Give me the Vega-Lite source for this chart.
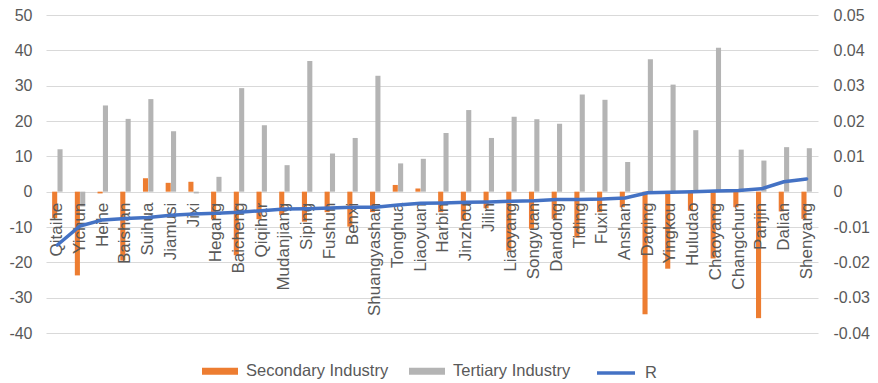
{
  "$schema": "https://vega.github.io/schema/vega-lite/v6.json",
  "autosize": {"type": "none"},
  "padding": {"left": 46, "top": 15, "right": 60, "bottom": 50},
  "width": 772,
  "height": 318,
  "config": {
    "view": {"stroke": null},
    "font": "Liberation Sans",
    "axis": {"labelFont": "Liberation Sans", "labelFontSize": 16, "labelColor": "#595959", "domain": false, "ticks": false, "labelOverlap": false},
    "legend": {"labelFont": "Liberation Sans", "labelFontSize": 16.5, "labelColor": "#595959"}
  },
  "datasets": {
    "bars": [
      {"city": "Qitaihe", "series": "Secondary Industry", "value": -7.5},
      {"city": "Qitaihe", "series": "Tertiary Industry", "value": 12.0},
      {"city": "Yichun", "series": "Secondary Industry", "value": -23.7},
      {"city": "Yichun", "series": "Tertiary Industry", "value": -4.2},
      {"city": "Heihe", "series": "Secondary Industry", "value": -0.5},
      {"city": "Heihe", "series": "Tertiary Industry", "value": 24.4},
      {"city": "Baishan", "series": "Secondary Industry", "value": -19.5},
      {"city": "Baishan", "series": "Tertiary Industry", "value": 20.6},
      {"city": "Suihua", "series": "Secondary Industry", "value": 3.8},
      {"city": "Suihua", "series": "Tertiary Industry", "value": 26.2},
      {"city": "Jiamusi", "series": "Secondary Industry", "value": 2.5},
      {"city": "Jiamusi", "series": "Tertiary Industry", "value": 17.1},
      {"city": "Jixi", "series": "Secondary Industry", "value": 2.8},
      {"city": "Jixi", "series": "Tertiary Industry", "value": -0.5},
      {"city": "Hegang", "series": "Secondary Industry", "value": -7.8},
      {"city": "Hegang", "series": "Tertiary Industry", "value": 4.2},
      {"city": "Baicheng", "series": "Secondary Industry", "value": -18.0},
      {"city": "Baicheng", "series": "Tertiary Industry", "value": 29.3},
      {"city": "Qiqihar", "series": "Secondary Industry", "value": -7.8},
      {"city": "Qiqihar", "series": "Tertiary Industry", "value": 18.8},
      {"city": "Mudanjiang", "series": "Secondary Industry", "value": -6.6},
      {"city": "Mudanjiang", "series": "Tertiary Industry", "value": 7.5},
      {"city": "Siping", "series": "Secondary Industry", "value": -8.5},
      {"city": "Siping", "series": "Tertiary Industry", "value": 37.0},
      {"city": "Fushun", "series": "Secondary Industry", "value": -5.8},
      {"city": "Fushun", "series": "Tertiary Industry", "value": 10.8},
      {"city": "Benxi", "series": "Secondary Industry", "value": -9.9},
      {"city": "Benxi", "series": "Tertiary Industry", "value": 15.2},
      {"city": "Shuangyashan", "series": "Secondary Industry", "value": -5.8},
      {"city": "Shuangyashan", "series": "Tertiary Industry", "value": 32.8},
      {"city": "Tonghua", "series": "Secondary Industry", "value": 1.9},
      {"city": "Tonghua", "series": "Tertiary Industry", "value": 8.0},
      {"city": "Liaoyuan", "series": "Secondary Industry", "value": 0.9},
      {"city": "Liaoyuan", "series": "Tertiary Industry", "value": 9.3},
      {"city": "Harbin", "series": "Secondary Industry", "value": -5.8},
      {"city": "Harbin", "series": "Tertiary Industry", "value": 16.6},
      {"city": "Jinzhou", "series": "Secondary Industry", "value": -8.2},
      {"city": "Jinzhou", "series": "Tertiary Industry", "value": 23.1},
      {"city": "Jilin", "series": "Secondary Industry", "value": -4.7},
      {"city": "Jilin", "series": "Tertiary Industry", "value": 15.2},
      {"city": "Liaoyang", "series": "Secondary Industry", "value": -16.7},
      {"city": "Liaoyang", "series": "Tertiary Industry", "value": 21.2},
      {"city": "Songyuan", "series": "Secondary Industry", "value": -10.5},
      {"city": "Songyuan", "series": "Tertiary Industry", "value": 20.5},
      {"city": "Dandong", "series": "Secondary Industry", "value": -7.7},
      {"city": "Dandong", "series": "Tertiary Industry", "value": 19.2},
      {"city": "Tiding", "series": "Secondary Industry", "value": -13.0},
      {"city": "Tiding", "series": "Tertiary Industry", "value": 27.5},
      {"city": "Fuxin", "series": "Secondary Industry", "value": -5.8},
      {"city": "Fuxin", "series": "Tertiary Industry", "value": 26.0},
      {"city": "Anshan", "series": "Secondary Industry", "value": -4.4},
      {"city": "Anshan", "series": "Tertiary Industry", "value": 8.4},
      {"city": "Daqing", "series": "Secondary Industry", "value": -34.7},
      {"city": "Daqing", "series": "Tertiary Industry", "value": 37.5},
      {"city": "Yingkou", "series": "Secondary Industry", "value": -21.8},
      {"city": "Yingkou", "series": "Tertiary Industry", "value": 30.3},
      {"city": "Huludao", "series": "Secondary Industry", "value": -5.4},
      {"city": "Huludao", "series": "Tertiary Industry", "value": 17.4},
      {"city": "Chaoyang", "series": "Secondary Industry", "value": -18.9},
      {"city": "Chaoyang", "series": "Tertiary Industry", "value": 40.7},
      {"city": "Changchun", "series": "Secondary Industry", "value": -4.4},
      {"city": "Changchun", "series": "Tertiary Industry", "value": 11.9},
      {"city": "Panjin", "series": "Secondary Industry", "value": -35.8},
      {"city": "Panjin", "series": "Tertiary Industry", "value": 8.8},
      {"city": "Dalian", "series": "Secondary Industry", "value": -5.6},
      {"city": "Dalian", "series": "Tertiary Industry", "value": 12.6},
      {"city": "Shenyang", "series": "Secondary Industry", "value": -7.7},
      {"city": "Shenyang", "series": "Tertiary Industry", "value": 12.3}
    ],
    "r": [
      {"city": "Qitaihe", "series": "R", "r": -0.0151},
      {"city": "Yichun", "series": "R", "r": -0.0097},
      {"city": "Heihe", "series": "R", "r": -0.0080},
      {"city": "Baishan", "series": "R", "r": -0.0076},
      {"city": "Suihua", "series": "R", "r": -0.0073},
      {"city": "Jiamusi", "series": "R", "r": -0.0067},
      {"city": "Jixi", "series": "R", "r": -0.0063},
      {"city": "Hegang", "series": "R", "r": -0.0061},
      {"city": "Baicheng", "series": "R", "r": -0.0058},
      {"city": "Qiqihar", "series": "R", "r": -0.0054},
      {"city": "Mudanjiang", "series": "R", "r": -0.0049},
      {"city": "Siping", "series": "R", "r": -0.0048},
      {"city": "Fushun", "series": "R", "r": -0.0046},
      {"city": "Benxi", "series": "R", "r": -0.0044},
      {"city": "Shuangyashan", "series": "R", "r": -0.0044},
      {"city": "Tonghua", "series": "R", "r": -0.0038},
      {"city": "Liaoyuan", "series": "R", "r": -0.0033},
      {"city": "Harbin", "series": "R", "r": -0.0032},
      {"city": "Jinzhou", "series": "R", "r": -0.0030},
      {"city": "Jilin", "series": "R", "r": -0.0029},
      {"city": "Liaoyang", "series": "R", "r": -0.0027},
      {"city": "Songyuan", "series": "R", "r": -0.0026},
      {"city": "Dandong", "series": "R", "r": -0.0022},
      {"city": "Tiding", "series": "R", "r": -0.0022},
      {"city": "Fuxin", "series": "R", "r": -0.0021},
      {"city": "Anshan", "series": "R", "r": -0.0018},
      {"city": "Daqing", "series": "R", "r": -0.0003},
      {"city": "Yingkou", "series": "R", "r": -0.0002},
      {"city": "Huludao", "series": "R", "r": 0.0},
      {"city": "Chaoyang", "series": "R", "r": 0.0002},
      {"city": "Changchun", "series": "R", "r": 0.0003},
      {"city": "Panjin", "series": "R", "r": 0.0008},
      {"city": "Dalian", "series": "R", "r": 0.0028},
      {"city": "Shenyang", "series": "R", "r": 0.0036}
    ]
  },
  "layer": [
    {
      "layer": [
        {
          "data": {"name": "bars"},
          "mark": {"type": "bar"},
          "encoding": {
            "x": {
              "field": "city", "type": "nominal", "axis": null,
              "scale": {
                "domain": ["Qitaihe","Yichun","Heihe","Baishan","Suihua","Jiamusi","Jixi","Hegang","Baicheng","Qiqihar","Mudanjiang","Siping","Fushun","Benxi","Shuangyashan","Tonghua","Liaoyuan","Harbin","Jinzhou","Jilin","Liaoyang","Songyuan","Dandong","Tiding","Fuxin","Anshan","Daqing","Yingkou","Huludao","Chaoyang","Changchun","Panjin","Dalian","Shenyang"],
                "paddingInner": 0.54, "paddingOuter": 0.27
              }
            },
            "xOffset": {"field": "series", "type": "nominal", "scale": {"domain": ["Secondary Industry", "Tertiary Industry"], "paddingInner": 0.05}},
            "y": {
              "field": "value", "type": "quantitative",
              "scale": {"domain": [-40, 50], "nice": false, "zero": false},
              "axis": {"title": null, "values": [-40,-30,-20,-10,0,10,20,30,40,50], "grid": true, "gridColor": "#d9d9d9", "gridWidth": 1, "labelPadding": 14, "labelOverlap": false, "labelExpr": "'' + datum.value"}
            },
            "color": {
              "field": "series", "type": "nominal",
              "scale": {"domain": ["Secondary Industry", "Tertiary Industry"], "range": ["#ED7D31", "#B4B4B4"]},
              "legend": {
                "title": null, "orient": "none", "legendX": 156, "legendY": 338, "direction": "horizontal",
                "symbolType": "M-1,-0.2H1V0.2H-1Z", "symbolSize": 1296, "symbolStrokeWidth": 0,
                "labelOffset": 8, "columnPadding": 20
              }
            }
          }
        },
        {
          "data": {"name": "r"},
          "mark": {"type": "text", "angle": -90, "align": "right", "baseline": "middle", "dx": -11, "fontSize": 17, "color": "#595959", "font": "Liberation Sans"},
          "encoding": {
            "x": {"field": "city", "type": "nominal"},
            "y": {
              "datum": 0, "type": "quantitative",
              "axis": {"title": null, "values": [-40,-30,-20,-10,0,10,20,30,40,50], "grid": true, "gridColor": "#d9d9d9", "gridWidth": 1, "labelPadding": 14, "labelOverlap": false, "labelExpr": "'' + datum.value"}
            },
            "text": {"field": "city"}
          }
        }
      ]
    },
    {
      "data": {"name": "r"},
      "mark": {"type": "line", "strokeWidth": 3.5, "strokeCap": "round", "strokeJoin": "round"},
      "encoding": {
        "x": {"field": "city", "type": "nominal"},
        "y": {
          "field": "r", "type": "quantitative",
          "scale": {"domain": [-0.04, 0.05], "nice": false, "zero": false},
          "axis": {"title": null, "orient": "right", "values": [-0.04,-0.03,-0.02,-0.01,0,0.01,0.02,0.03,0.04,0.05], "grid": false, "labelPadding": 15, "labelOverlap": false, "labelExpr": "'' + datum.value"}
        },
        "color": {
          "field": "series", "type": "nominal",
          "scale": {"domain": ["R"], "range": ["#4472C4"]},
          "legend": {
            "title": null, "orient": "none", "legendX": 549, "legendY": 337, "direction": "horizontal",
            "symbolType": "stroke", "symbolSize": 1444, "symbolStrokeWidth": 3.5, "labelOffset": 8
          }
        }
      }
    }
  ],
  "resolve": {"scale": {"y": "independent", "color": "independent"}}
}
